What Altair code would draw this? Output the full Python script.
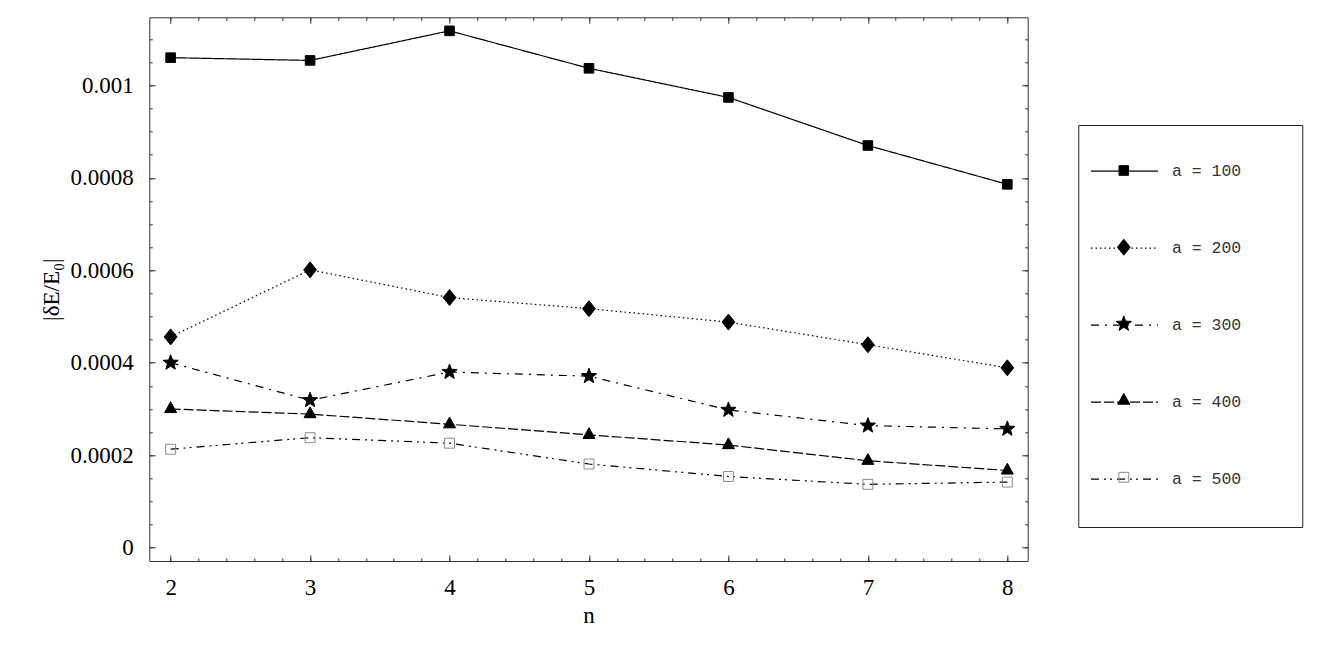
import altair as alt
import pandas as pd

# ---------------- data ----------------
n_values = [2, 3, 4, 5, 6, 7, 8]
series_labels = ["a = 100", "a = 200", "a = 300", "a = 400", "a = 500"]
a100 = [1.060e-3, 1.054e-3, 1.118e-3, 1.037e-3, 0.974e-3, 0.870e-3, 0.786e-3]
a200 = [0.456e-3, 0.601e-3, 0.541e-3, 0.517e-3, 0.488e-3, 0.439e-3, 0.389e-3]
a300 = [0.400e-3, 0.319e-3, 0.380e-3, 0.371e-3, 0.298e-3, 0.264e-3, 0.257e-3]
a400 = [0.300e-3, 0.289e-3, 0.267e-3, 0.244e-3, 0.222e-3, 0.188e-3, 0.167e-3]
a500 = [0.213e-3, 0.238e-3, 0.226e-3, 0.181e-3, 0.154e-3, 0.137e-3, 0.142e-3]
series_values = [a100, a200, a300, a400, a500]

# axis ticks
x_major_ticks = [2, 3, 4, 5, 6, 7, 8]
x_minor_ticks = [2.0, 2.2, 2.4, 2.6, 2.8, 3.0, 3.2, 3.4, 3.6, 3.8, 4.0, 4.2, 4.4, 4.6,
                 4.8, 5.0, 5.2, 5.4, 5.6, 5.8, 6.0, 6.2, 6.4, 6.6, 6.8, 7.0, 7.2, 7.4,
                 7.6, 7.8, 8.0]
y_major_ticks = [0, 0.0002, 0.0004, 0.0006, 0.0008, 0.001]
y_minor_ticks = [0, 0.00005, 0.0001, 0.00015, 0.0002, 0.00025, 0.0003, 0.00035, 0.0004,
                 0.00045, 0.0005, 0.00055, 0.0006, 0.00065, 0.0007, 0.00075, 0.0008,
                 0.00085, 0.0009, 0.00095, 0.001, 0.00105, 0.0011]

rows = []
for lab, vals in zip(series_labels, series_values):
    for n, v in zip(n_values, vals):
        rows.append({"n": n, "value": v, "series": lab, "marker": lab})
df = pd.DataFrame(rows)

# ---------------- styles ----------------
SERIF = "Liberation Serif"
X_DOMAIN = [1.847, 8.146]
Y_DOMAIN = [-0.0000288, 0.0011473]
BOUND = " M0,-1.1 M0,1.1"
SQUARE = "M-0.6,-0.6H0.6V0.6H-0.6Z" + BOUND
DIAMOND = "M0,-1L0.8,0L0,1L-0.8,0Z" + BOUND
STAR = ("M0,-1L0.2469,-0.3398L0.9511,-0.309L0.3995,0.1298L0.5878,0.809L0,0.42"
        "L-0.5878,0.809L-0.3995,0.1298L-0.9511,-0.309L-0.2469,-0.3398Z" + BOUND)
TRIANGLE = "M0,-0.9L0.75,0.45L-0.75,0.45Z" + BOUND
OPEN_SQ = "M-0.62,-0.62H0.62V0.62H-0.62Z" + BOUND
shape_range = [SQUARE, DIAMOND, STAR, TRIANGLE, OPEN_SQ]
fill_range = ["#000000", "#000000", "#000000", "#000000", "transparent"]
stroke_range = ["#000000", "#000000", "#000000", "#000000", "#8c8c8c"]
dash_range = [[1, 0], [1.5, 3], [8, 6, 2, 6], [10, 3], [8, 5, 2, 4, 2, 5]]
LEGEND_LINE = "M-1,0H1M0,-1M0,1M4.88,0"

xs = alt.Scale(domain=X_DOMAIN, nice=False, zero=False)
ys = alt.Scale(domain=Y_DOMAIN, nice=False, zero=False)


def tick_axis(orient, values, size):
    return alt.Axis(orient=orient, values=values, labels=False, domain=False,
                    ticks=True, tickSize=size, offset=-size, grid=False,
                    title=None, tickColor="#333333", tickWidth=1)


base = alt.Chart(df)

lines = base.mark_line(color="black", strokeWidth=1.2).encode(
    x=alt.X("n:Q", scale=xs,
            axis=alt.Axis(orient="bottom", values=x_major_ticks, format="d",
                          ticks=False, domain=False, labelPadding=16,
                          labelFont=SERIF, labelFontSize=23, labelColor="black",
                          title="n", titleFont=SERIF, titleFontSize=23,
                          titleFontWeight="normal", titleColor="black",
                          titlePadding=5, grid=False)),
    y=alt.Y("value:Q", scale=ys,
            axis=alt.Axis(orient="left", values=y_major_ticks, format="~g",
                          ticks=False, domain=False, labelPadding=16,
                          labelFont=SERIF, labelFontSize=23, labelColor="black",
                          title="|δE/E₀|", titleFont=SERIF, titleFontSize=23,
                          titleFontWeight="normal", titleColor="black",
                          titlePadding=7, grid=False)),
    strokeDash=alt.StrokeDash(
        "series:N",
        scale=alt.Scale(domain=series_labels, range=dash_range),
        legend=alt.Legend(orient="none", legendX=929, legendY=107.7, padding=11.7,
                          title=None, symbolType=LEGEND_LINE, symbolSize=4489,
                          symbolStrokeWidth=1.2, symbolStrokeColor="black",
                          labelFont="Liberation Mono", labelFontSize=16.5,
                          labelColor="#333333", labelOffset=13, rowPadding=4,
                          strokeColor="#222222", fillColor="white"),
    ),
)

marker_legend = alt.Legend(orient="none", legendX=966, legendY=144.7, padding=0,
                           title=None, symbolSize=256, symbolStrokeWidth=1,
                           labelOpacity=0, labelFontSize=8, rowPadding=53.7)

points = base.mark_point(filled=True, opacity=1, size=256, strokeWidth=1).encode(
    x=alt.X("n:Q", scale=xs, axis=tick_axis("bottom", x_major_ticks, 6)),
    y=alt.Y("value:Q", scale=ys, axis=tick_axis("left", y_major_ticks, 6)),
    shape=alt.Shape("marker:N", scale=alt.Scale(range=shape_range),
                    legend=marker_legend),
    fill=alt.Fill("marker:N", scale=alt.Scale(range=fill_range),
                  legend=marker_legend),
    stroke=alt.Stroke("marker:N", scale=alt.Scale(range=stroke_range),
                      legend=marker_legend),
)

ghost = base.mark_point(opacity=0)
t_major = ghost.encode(
    x=alt.X("n:Q", scale=xs, axis=tick_axis("top", x_major_ticks, 6)),
    y=alt.Y("value:Q", scale=ys, axis=tick_axis("right", y_major_ticks, 6)),
)
b_minor = ghost.encode(
    x=alt.X("n:Q", scale=xs, axis=tick_axis("bottom", x_minor_ticks, 3)),
    y=alt.Y("value:Q", scale=ys, axis=tick_axis("left", y_minor_ticks, 3)),
)
t_minor = ghost.encode(
    x=alt.X("n:Q", scale=xs, axis=tick_axis("top", x_minor_ticks, 3)),
    y=alt.Y("value:Q", scale=ys, axis=tick_axis("right", y_minor_ticks, 3)),
)

chart = alt.layer(lines, points, t_major, b_minor, t_minor).resolve_axis(
    x="independent", y="independent"
).properties(
    width=878.4,
    height=543.7,
    padding={"left": 141.3, "top": 9.3, "right": 290, "bottom": 75},
    autosize=alt.AutoSizeParams(type="none"),
    background="white",
).configure_view(
    stroke="#333333", strokeWidth=1
)

chart.save("out.html", embed_options={"renderer": "svg", "actions": False})
